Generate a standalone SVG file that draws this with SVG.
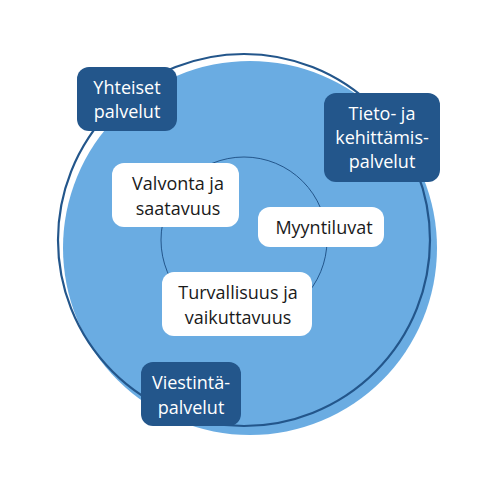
<svg xmlns="http://www.w3.org/2000/svg" width="500" height="500" viewBox="0 0 500 500">
<style>
.t{font-family:"Open Sans",Lato,sans-serif;font-size:18px;text-anchor:middle}
.d{fill:#23568b}
.dt{fill:#ffffff}
.w{fill:#ffffff}
.wt{fill:#1a1a1a}
</style>
<rect width="500" height="500" fill="#ffffff"/>
<g id="rings">
<circle cx="250" cy="248" r="187" fill="#6aace2"/>
<circle cx="244" cy="240" r="186" fill="none" stroke="#23568b" stroke-width="2.2"/>
<circle cx="244" cy="240" r="83" fill="none" stroke="#23568b" stroke-width="1"/>
</g>
<g id="yhteiset">
<rect class="d" x="77" y="67" width="100" height="64" rx="12"/>
<text class="t dt" x="127" y="94">Yhteiset</text>
<text class="t dt" x="127" y="118">palvelut</text>
</g>
<g id="tieto">
<rect class="d" x="324" y="93" width="116" height="89" rx="12"/>
<text class="t dt" x="382" y="120">Tieto- ja</text>
<text class="t dt" x="382" y="144">kehittämis-</text>
<text class="t dt" x="382" y="168">palvelut</text>
</g>
<g id="viestinta">
<rect class="d" x="141" y="362" width="100" height="64" rx="12"/>
<text class="t dt" x="191" y="389">Viestintä-</text>
<text class="t dt" x="191" y="414">palvelut</text>
</g>
<g id="valvonta">
<rect class="w" x="112" y="163" width="127" height="64" rx="12"/>
<text class="t wt" x="178" y="190">Valvonta ja</text>
<text class="t wt" x="178" y="215">saatavuus</text>
</g>
<g id="myyntiluvat">
<rect class="w" x="258" y="207" width="126" height="40" rx="12"/>
<text class="t wt" x="324" y="234">Myyntiluvat</text>
</g>
<g id="turvallisuus">
<rect class="w" x="162" y="272" width="150" height="64" rx="12"/>
<text class="t wt" x="238" y="299">Turvallisuus ja</text>
<text class="t wt" x="238" y="324">vaikuttavuus</text>
</g>
</svg>
